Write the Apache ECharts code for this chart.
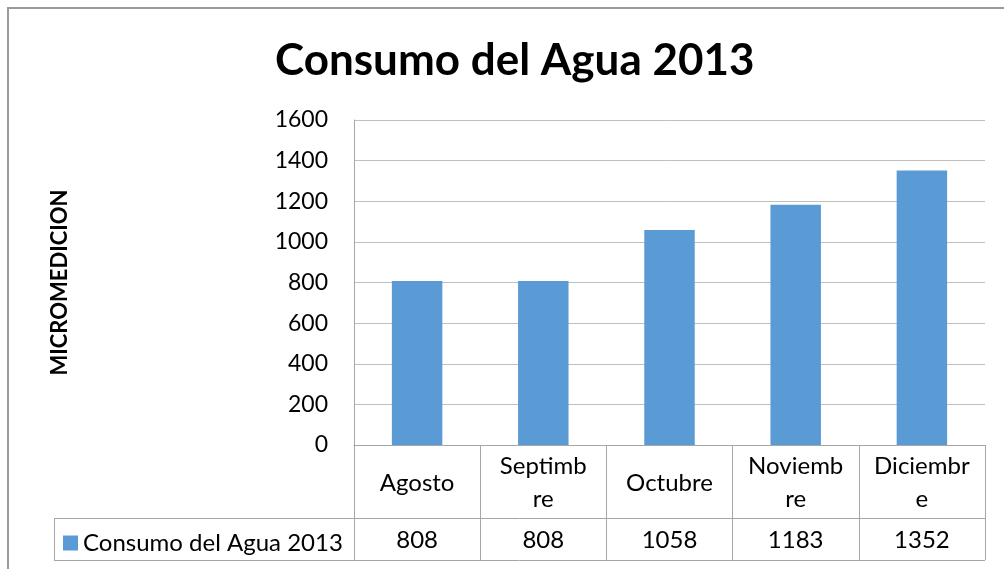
<!DOCTYPE html>
<html>
<head>
<meta charset="utf-8">
<script src="https://cdn.jsdelivr.net/npm/echarts@6/dist/echarts.min.js"></script>
<style>
  html, body { margin: 0; padding: 0; background: #fff; }
  #chart { width: 1004px; height: 569px; }
</style>
</head>
<body>
<div id="chart"></div>
<script>
// datos
const meses = ['Agosto', 'Septimbre', 'Octubre', 'Noviembre', 'Diciembre'];
const etiquetasMes = ['Agosto', 'Septimb\nre', 'Octubre', 'Noviemb\nre', 'Diciembr\ne'];
const consumo = [808, 808, 1058, 1183, 1352];
const serieNombre = 'Consumo del Agua 2013';

const fuente = 'Lato';
const gris = '#a6a6a6';

let myChart = echarts.init(document.getElementById('chart'));
myChart.setOption({
  animation: false,
  textStyle: { fontFamily: fuente, color: '#000' },
  title: {
    text: 'Consumo del Agua 2013',
    left: 270,
    top: 34,
    textStyle: { fontFamily: fuente, fontSize: 44, fontWeight: 'bold', color: '#000' }
  },
  legend: {
    data: [serieNombre],
    left: 58,
    top: 526,
    icon: 'rect',
    itemWidth: 15,
    itemHeight: 15,
    textStyle: { fontFamily: fuente, fontSize: 24, color: '#000' }
  },
  grid: { left: 354, right: 19, top: 120, bottom: 124 },
  xAxis: [
    {
      type: 'category',
      data: meses,
      axisLine: { lineStyle: { color: gris } },
      axisTick: { show: true, length: 115, interval: 0, lineStyle: { color: gris } },
      axisLabel: {
        interval: 0,
        margin: 38,
        verticalAlign: 'middle',
        fontSize: 24,
        lineHeight: 33,
        color: '#000',
        fontFamily: fuente,
        formatter: function (v, i) { return etiquetasMes[i]; }
      }
    },
    {
      type: 'category',
      position: 'bottom',
      data: consumo.map(String),
      axisLine: { show: false },
      axisTick: { show: false },
      axisLabel: {
        interval: 0,
        margin: 95,
        verticalAlign: 'middle',
        fontSize: 24,
        color: '#000',
        fontFamily: fuente
      }
    }
  ],
  yAxis: {
    type: 'value',
    min: 0,
    max: 1600,
    interval: 200,
    name: 'MICROMEDICION',
    nameLocation: 'middle',
    nameRotate: 90,
    nameGap: 283,
    nameTextStyle: { fontFamily: fuente, fontSize: 22, fontWeight: 'bold', color: '#000' },
    axisLine: { show: true, lineStyle: { color: gris } },
    axisTick: { show: false },
    axisLabel: {
      fontSize: 23, margin: 26, color: '#000', fontFamily: fuente,
      formatter: function (v) { return String(v); }
    },
    splitLine: { lineStyle: { color: '#bfbfbf' } }
  },
  series: [{
    name: serieNombre,
    type: 'bar',
    data: consumo,
    barCategoryGap: '60%',
    itemStyle: { color: '#5b9bd5' }
  }],
  graphic: [
    // marco exterior
    { type: 'rect', shape: { x: 8, y: 8, width: 1100, height: 700 }, style: { fill: 'none', stroke: '#9a9a9a', lineWidth: 2 }, silent: true },
    // tabla de datos
    { type: 'line', shape: { x1: 54, y1: 518.5, x2: 985, y2: 518.5 }, style: { stroke: gris, lineWidth: 1 } },
    { type: 'line', shape: { x1: 54, y1: 560.5, x2: 985, y2: 560.5 }, style: { stroke: gris, lineWidth: 1 } },
    { type: 'line', shape: { x1: 54.5, y1: 518, x2: 54.5, y2: 561 }, style: { stroke: gris, lineWidth: 1 } }
  ]
});
</script>
</body>
</html>
